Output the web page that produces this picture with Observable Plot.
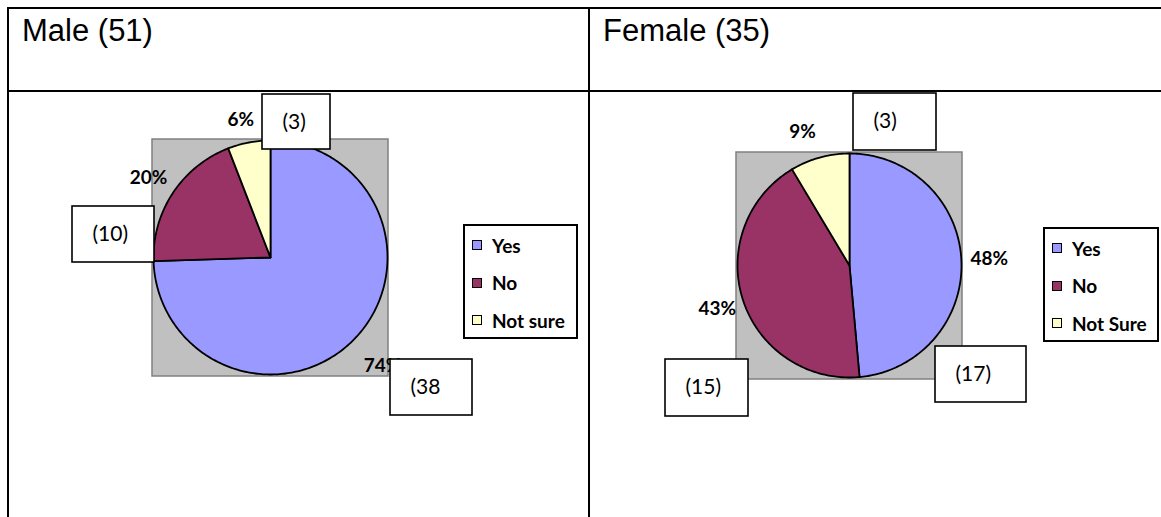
<!DOCTYPE html>
<html>
<head>
<meta charset="utf-8">
<script src="https://cdn.jsdelivr.net/npm/d3@7"></script>
<script src="https://cdn.jsdelivr.net/npm/@observablehq/plot@0.6"></script>
<style>
  body { margin: 0; background: #fff; }
  #page { position: relative; width: 1161px; height: 517px; overflow: hidden; background: #fff; }
  .line { position: absolute; background: #000; }
  .title { position: absolute; font-family: "Liberation Sans", Arial, sans-serif; font-size: 31px; line-height: 31px; color: #000; white-space: nowrap; }
  .panel { position: absolute; }
  .legend { position: absolute; border: 2px solid #000; box-sizing: border-box; background: #fff;
            font-family: Lato, "Open Sans", sans-serif; font-weight: bold; font-size: 19px; color: #000; }
  .legend .item { position: absolute; height: 24px; display: flex; align-items: center; white-space: nowrap; }
  .legend .sw { width: 10px; height: 10px; border: 1.5px solid #000; box-sizing: border-box; margin-right: 10px; }
</style>
</head>
<body>
<div id="page"></div>
<script>
// ---------- data ----------
const categories = ["Yes", "No", "Not sure"];
const colors = ["#9999FF", "#993366", "#FFFFCC"];
const panelTitles = ["Male (51)", "Female (35)"];
const maleCounts = [38, 10, 3];
const femaleCounts = [17, 15, 3];
const malePctLabels = ["74%", "20%", "6%"];
const femalePctLabels = ["48%", "43%", "9%"];
const maleBoxLabels = ["(38", "(10)", "(3)"];
const femaleBoxLabels = ["(17)", "(15)", "(3)"];
const maleLegendLabels = ["Yes", "No", "Not sure"];
const femaleLegendLabels = ["Yes", "No", "Not Sure"];

// ---------- layout (pixels) ----------
const headerBottom = 92;
const panels = [
  { title: panelTitles[0], counts: maleCounts, pct: malePctLabels, boxes: maleBoxLabels, legendLabels: maleLegendLabels,
    left: 9, width: 580, cx: 261, cy: 165, R: 117,
    labelDist: [156, 144, 140], labelDx: [0, -2, -4],
    boxPos: [[120, 102, 82, 56], [-198, -51, 82, 56], [-8, -163, 68, 55]],
    titleLeft: 22, legend: { left: 463, top: 224, width: 115, height: 115 } },
  { title: panelTitles[1], counts: femaleCounts, pct: femalePctLabels, boxes: femaleBoxLabels, legendLabels: femaleLegendLabels,
    left: 590, width: 571, cx: 259, cy: 173, R: 112,
    labelDist: [140, 139, 139], labelDx: [0, 0, -10],
    boxPos: [[86, 81, 91, 56], [-184, 94, 83, 57], [4, -172, 83, 57]],
    titleLeft: 603, legend: { left: 1043, top: 227, width: 116, height: 115 } }
];

const page = document.getElementById("page");
function addLine(l, t, w, h) {
  const d = document.createElement("div");
  d.className = "line";
  Object.assign(d.style, { left: l + "px", top: t + "px", width: w + "px", height: h + "px" });
  page.appendChild(d);
}
// table grid
addLine(7, 7, 1161 - 7, 2);
addLine(7, 90, 1161 - 7, 2);
addLine(7, 7, 2, 517 - 7);
addLine(588, 7, 2, 517 - 7);

panels.forEach(p => {
  // title
  const t = document.createElement("div");
  t.className = "title";
  t.textContent = p.title;
  t.style.left = p.titleLeft + "px";
  t.style.top = "15px";
  page.appendChild(t);

  const W = p.width, H = 517 - headerBottom, R = p.R;
  const arcs = d3.pie().sort(null)(p.counts);

  // slice outlines as closed polygons
  const slicePts = [];
  arcs.forEach((a, i) => {
    const cat = categories[i];
    slicePts.push({ cat, x: 0, y: 0 });
    const n = Math.max(2, Math.ceil((a.endAngle - a.startAngle) / (Math.PI / 180)));
    for (let k = 0; k <= n; k++) {
      const ang = a.startAngle + (a.endAngle - a.startAngle) * k / n;
      slicePts.push({ cat, x: R * Math.sin(ang), y: -R * Math.cos(ang) });
    }
    slicePts.push({ cat, x: 0, y: 0 });
  });

  const pctData = arcs.map((a, i) => {
    const mid = (a.startAngle + a.endAngle) / 2;
    const d = p.labelDist[i];
    return { text: p.pct[i], x: d * Math.sin(mid) + p.labelDx[i], y: -d * Math.cos(mid) };
  });

  const boxData = p.boxes.map((label, i) => {
    const [bx, by, bw, bh] = p.boxPos[i];
    return { text: label, x1: bx, x2: bx + bw, y1: by, y2: by + bh };
  });

  const chart = Plot.plot({
    width: W, height: H, margin: 0,
    style: { background: "transparent", overflow: "visible", fontFamily: "Lato" },
    x: { domain: [-p.cx, W - p.cx], axis: null },
    y: { domain: [-p.cy, H - p.cy], range: [0, H], axis: null },
    color: { domain: categories, range: colors },
    marks: [
      Plot.rect([0], { x1: () => -R - 1, x2: () => R + 1, y1: () => -R - 1, y2: () => R + 2,
                       fill: "#C0C0C0", stroke: "#808080", strokeWidth: 1.5 }),
      Plot.line(slicePts, { x: "x", y: "y", z: "cat", fill: "cat", stroke: "#000", strokeWidth: 1.8, curve: "linear" }),
      Plot.text(pctData, { x: "x", y: "y", text: "text", fontWeight: "bold", fontSize: 19, fontFamily: "Lato", fill: "#000" }),
      Plot.rect(boxData, { x1: "x1", x2: "x2", y1: "y1", y2: "y2", fill: "#fff", stroke: "#000", strokeWidth: 1.6 }),
      Plot.text(boxData, { x: d => d.x1 + 20, y: d => d.y1 + 28, text: "text", textAnchor: "start",
                           fontSize: 21, fontFamily: "Lato", fill: "#000" })
    ]
  });
  const holder = document.createElement("div");
  holder.className = "panel";
  holder.style.left = p.left + "px";
  holder.style.top = headerBottom + "px";
  holder.appendChild(chart);
  page.appendChild(holder);

  // legend from the plot's color scale
  const cs = chart.scale("color");
  const lg = document.createElement("div");
  lg.className = "legend";
  Object.assign(lg.style, { left: p.legend.left + "px", top: p.legend.top + "px",
                            width: p.legend.width + "px", height: p.legend.height + "px" });
  cs.domain.forEach((c, i) => {
    const it = document.createElement("div");
    it.className = "item";
    it.style.left = "7px";
    it.style.top = (19 + i * 37.5 - 12) + "px";
    const sw = document.createElement("div");
    sw.className = "sw";
    sw.style.background = cs.range[i];
    const tx = document.createElement("span");
    tx.textContent = p.legendLabels[i];
    it.appendChild(sw); it.appendChild(tx);
    lg.appendChild(it);
  });
  page.appendChild(lg);
});
</script>
</body>
</html>
